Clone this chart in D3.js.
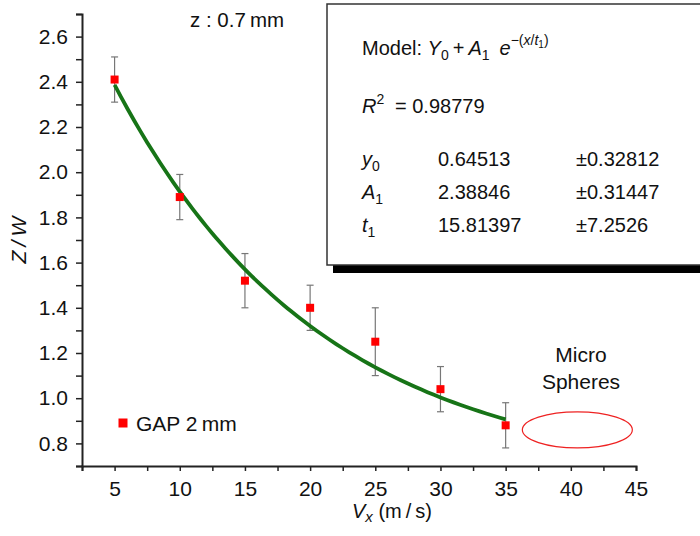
<!DOCTYPE html>
<html>
<head>
<meta charset="utf-8">
<script src="https://cdn.jsdelivr.net/npm/d3@7"></script>
<style>
  body { margin: 0; background: #fff; }
  svg { display: block; font-family: 'Liberation Sans', Arial, sans-serif; }
</style>
</head>
<body>
<script>
// measured points (GAP 2 mm)
const vx = [5, 10, 15, 20, 25, 30, 35]
const zw = [2.41, 1.89, 1.52, 1.40, 1.25, 1.04, 0.88]
const zwErr = [0.10, 0.10, 0.12, 0.10, 0.15, 0.10, 0.10]

// fit results shown in the box
const fitNames = ['y', 'A', 't']
const fitSubs = ['0', '1', '1']
const fitValues = ['0.64513', '2.38846', '15.81397']
const fitErrors = ['\u00b10.32812', '\u00b10.31447', '\u00b17.2526']
const rSquared = '0.98779'

const xTickValues = d3.range(1, 19).map((d) => d * 2.5)
const yTickValues = d3.range(7, 28).map((d) => d / 10)

const width = 700
const height = 536

const x = d3.scaleLinear().domain([2.5, 45]).range([82, 636])
const y = d3.scaleLinear().domain([0.7, 2.7]).range([466, 14])

const svg = d3
  .select('body')
  .append('svg')
  .attr('width', width)
  .attr('height', height)

// fit box with drop shadow
svg
  .append('rect')
  .attr('x', 333)
  .attr('y', 11)
  .attr('width', 420)
  .attr('height', 262)
  .attr('fill', '#000')
svg
  .append('rect')
  .attr('x', 327)
  .attr('y', 4)
  .attr('width', 420)
  .attr('height', 261)
  .attr('fill', '#fff')
  .attr('stroke', '#333')
  .attr('stroke-width', 1.5)

const box = svg.append('g').style('font-size', '20px').attr('fill', '#111')

const model = box.append('text').attr('x', 362).attr('y', 55)
model.append('tspan').text('Model: ')
model.append('tspan').attr('font-style', 'italic').text('Y')
model.append('tspan').attr('font-size', '14px').attr('dy', 5).text('0')
model.append('tspan').attr('dy', -5).text('\u2009+\u2009')
model.append('tspan').attr('font-style', 'italic').text('A')
model.append('tspan').attr('font-size', '14px').attr('dy', 5).text('1')
model.append('tspan').attr('dy', -5).attr('font-style', 'italic').text('\u2002e')
model.append('tspan').attr('font-size', '14px').attr('dy', -10).text('\u2212(')
model.append('tspan').attr('font-size', '14px').attr('font-style', 'italic').text('x')
model.append('tspan').attr('font-size', '14px').text('/')
model.append('tspan').attr('font-size', '14px').attr('font-style', 'italic').text('t')
model.append('tspan').attr('font-size', '10px').attr('dy', 3).text('1')
model.append('tspan').attr('font-size', '14px').attr('dy', -3).text(')')

const r2 = box.append('text').attr('x', 362).attr('y', 113)
r2.append('tspan').attr('font-style', 'italic').text('R')
r2.append('tspan').attr('font-size', '14px').attr('dy', -9).text('2')
box.append('text').attr('x', 395).attr('y', 113).text('= ' + rSquared)

const rowY = d3.scalePoint().domain(fitNames.map((d, i) => i)).range([166, 232])

fitNames.forEach((name, i) => {
  const t = box.append('text').attr('x', 362).attr('y', rowY(i))
  t.append('tspan').attr('font-style', 'italic').text(name)
  t.append('tspan').attr('font-size', '14px').attr('dy', 5).text(fitSubs[i])
  box.append('text').attr('x', 438).attr('y', rowY(i)).text(fitValues[i])
  box.append('text').attr('x', 576).attr('y', rowY(i)).text(fitErrors[i])
})

// axes
const xAxis = svg
  .append('g')
  .attr('transform', `translate(0,${y(0.7)})`)
  .call(
    d3
      .axisBottom(x)
      .tickValues(xTickValues)
      .tickSizeOuter(0)
      .tickSize(5)
      .tickPadding(10)
      .tickFormat((d) => (d % 5 === 0 ? d : ''))
  )

const yAxis = svg
  .append('g')
  .attr('transform', `translate(${x(2.5)},0)`)
  .call(
    d3
      .axisLeft(y)
      .tickValues(yTickValues)
      .tickSizeOuter(0)
      .tickSize(6)
      .tickPadding(8)
      .tickFormat((d) => (Math.round(d * 10) % 2 === 0 ? d3.format('.1f')(d) : ''))
  )

;[xAxis, yAxis].forEach((a) => {
  a.select('.domain').attr('stroke', '#222').attr('stroke-width', 2)
  a.selectAll('.tick line').attr('stroke', '#222').attr('stroke-width', 1.5)
  a.selectAll('.tick text')
    .attr('fill', '#111')
    .style('font-size', '21px')
    .style('font-family', "'Liberation Sans', Arial, sans-serif")
})

// axis titles
svg
  .append('text')
  .attr('transform', 'translate(26,240) rotate(-90)')
  .attr('text-anchor', 'middle')
  .style('font-size', '21px')
  .style('font-style', 'italic')
  .attr('fill', '#111')
  .text('Z\u2009/\u2009W')

const xTitle = svg
  .append('text')
  .attr('x', 352)
  .attr('y', 518)
  .style('font-size', '20px')
  .attr('fill', '#111')
xTitle.append('tspan').attr('font-style', 'italic').text('V')
xTitle.append('tspan').attr('font-style', 'italic').attr('font-size', '15px').attr('dy', 4).text('x')
xTitle.append('tspan').attr('dy', -4).text(' (m\u2009/\u2009s)')

// annotation
svg
  .append('text')
  .attr('x', 190)
  .attr('y', 27)
  .style('font-size', '20.5px')
  .attr('fill', '#111')
  .text('z : 0.7\u2009mm')

// fitted curve
const line = d3
  .line()
  .x((d) => x(d))
  .y((d) => y(+fitValues[0] + +fitValues[1] * Math.exp(-d / +fitValues[2])))
  .curve(d3.curveBasis)

// error bars
const err = svg.append('g').attr('stroke', '#777').attr('stroke-width', 1.2)
vx.forEach((v, i) => {
  err
    .append('line')
    .attr('x1', x(v))
    .attr('x2', x(v))
    .attr('y1', y(zw[i] + zwErr[i]))
    .attr('y2', y(zw[i] - zwErr[i]))
  ;[1, -1].forEach((s) => {
    err
      .append('line')
      .attr('x1', x(v) - 3.5)
      .attr('x2', x(v) + 3.5)
      .attr('y1', y(zw[i] + s * zwErr[i]))
      .attr('y2', y(zw[i] + s * zwErr[i]))
  })
})

svg
  .append('path')
  .datum(d3.range(5, 35.01, 0.5))
  .attr('d', line)
  .attr('fill', 'none')
  .attr('stroke', '#177417')
  .attr('stroke-width', 3.8)

svg
  .append('g')
  .selectAll('rect')
  .data(vx)
  .join('rect')
  .attr('x', (d) => x(d) - 4)
  .attr('y', (d, i) => y(zw[i]) - 4)
  .attr('width', 8)
  .attr('height', 8)
  .attr('fill', '#f00')

// legend
svg
  .append('rect')
  .attr('x', 118.5)
  .attr('y', 418.5)
  .attr('width', 9)
  .attr('height', 9)
  .attr('fill', '#f00')
svg
  .append('text')
  .attr('x', 136)
  .attr('y', 431)
  .style('font-size', '21px')
  .attr('fill', '#111')
  .text('GAP 2\u2009mm')

// micro spheres marker
svg
  .append('text')
  .attr('text-anchor', 'middle')
  .style('font-size', '21px')
  .attr('fill', '#111')
  .selectAll('tspan')
  .data(['Micro', 'Spheres'])
  .join('tspan')
  .attr('x', 581)
  .attr('y', (d, i) => 362 + i * 27)
  .text((d) => d)

svg
  .append('ellipse')
  .attr('cx', x(40.5))
  .attr('cy', y(0.86))
  .attr('rx', 55)
  .attr('ry', 18)
  .attr('fill', 'none')
  .attr('stroke', '#e22')
  .attr('stroke-width', 1.2)
</script>
</body>
</html>
